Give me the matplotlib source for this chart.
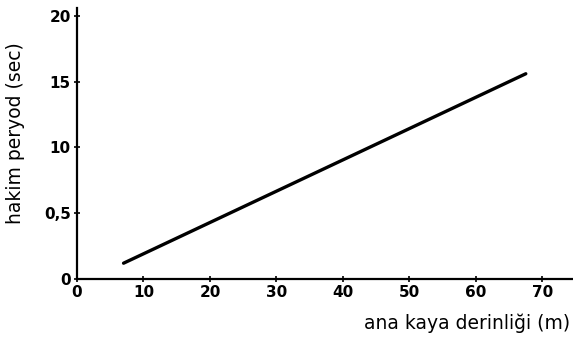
import matplotlib
matplotlib.use("Agg")
import matplotlib.pyplot as plt

# Data
depth_m = [7.0, 67.5]            # ana kaya derinliği (m)
period_s = [0.12, 1.56]          # hakim peryod (sec)
x_ticks = [0, 10, 20, 30, 40, 50, 60, 70]
x_tick_labels = ["0", "10", "20", "30", "40", "50", "60", "70"]
y_ticks = [0.0, 0.5, 1.0, 1.5, 2.0]
y_tick_labels = ["0", "0,5", "10", "15", "20"]

plt.rcParams['font.family'] = ['DejaVu Sans']

fig = plt.figure(figsize=(5.73, 3.38), dpi=100)
ax = fig.add_axes([0.1344, 0.1746, 0.8656, 0.8018])

ax.plot(depth_m, period_s, color="black", linewidth=2.4, solid_capstyle="round")

ax.set_xlim(0, 74.6)
ax.set_ylim(0, 2.06)
ax.set_xticks(x_ticks)
ax.set_xticklabels(x_tick_labels)
ax.set_yticks(y_ticks)
ax.set_yticklabels(y_tick_labels)

for s in ["top", "right"]:
    ax.spines[s].set_visible(False)
for s in ["left", "bottom"]:
    ax.spines[s].set_linewidth(1.6)

ax.tick_params(axis="both", direction="inout", length=5, width=1.2,
               labelsize=11, pad=2)
for lab in ax.get_xticklabels() + ax.get_yticklabels():
    lab.set_fontweight("bold")

ax.set_ylabel("hakim peryod (sec)", fontsize=13.5)
ax.yaxis.set_label_coords(-0.105, 0.54)
fig.text(0.995, 0.045, "ana kaya derinliği (m)", fontsize=13.5,
         ha="right", va="center")

fig.savefig("out.png", dpi=100, facecolor="white")
